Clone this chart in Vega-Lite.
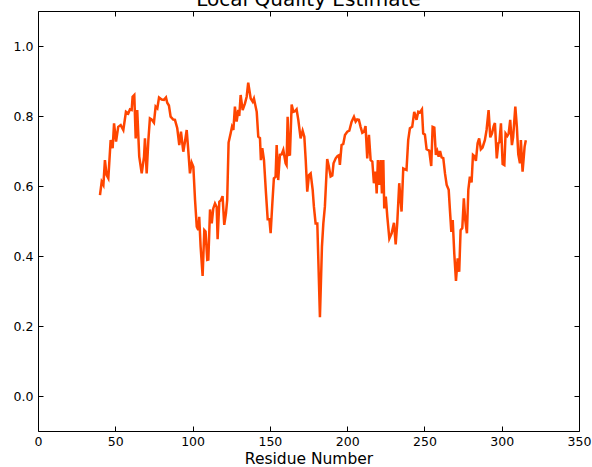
{
  "$schema": "https://vega.github.io/schema/vega-lite/v6.json",
  "width": 541,
  "height": 420,
  "autosize": {"type": "none"},
  "padding": {"left": 38, "top": 11, "right": 13, "bottom": 36},
  "title": {"text": "Local Quality Estimate", "fontSize": 20, "font": "DejaVu Sans", "fontWeight": "normal", "color": "black", "offset": 1, "anchor": "middle"},
  "config": {
    "view": {"stroke": "black", "strokeWidth": 1},
    "axis": {"labelFont": "DejaVu Sans", "labelFontSize": 12.5, "labelColor": "black", "titleFont": "DejaVu Sans", "titleFontWeight": "normal", "titleColor": "black", "tickColor": "black", "tickSize": -5, "tickWidth": 1, "domain": false, "grid": false}
  },
  "data": {"values": [
    {"r":40.1,"q":0.574},{"r":41.2,"q":0.612},{"r":42.3,"q":0.603},{"r":43.3,"q":0.674},{"r":44.4,"q":0.631},{"r":45.5,"q":0.622},{"r":47.0,"q":0.731},{"r":48.3,"q":0.708},{"r":49.2,"q":0.779},{"r":50.5,"q":0.727},{"r":51.9,"q":0.769},{"r":53.5,"q":0.774},{"r":55.2,"q":0.760},{"r":56.9,"q":0.812},{"r":58.4,"q":0.807},{"r":59.5,"q":0.819},{"r":60.6,"q":0.817},{"r":61.2,"q":0.855},{"r":62.3,"q":0.860},{"r":63.2,"q":0.736},{"r":64.2,"q":0.817},{"r":65.5,"q":0.684},{"r":67.1,"q":0.636},{"r":68.6,"q":0.684},{"r":69.2,"q":0.736},{"r":70.3,"q":0.636},{"r":71.4,"q":0.731},{"r":72.4,"q":0.793},{"r":73.5,"q":0.79},{"r":75.0,"q":0.781},{"r":76.1,"q":0.827},{"r":77.2,"q":0.822},{"r":78.3,"q":0.853},{"r":80.0,"q":0.847},{"r":81.5,"q":0.846},{"r":82.8,"q":0.853},{"r":83.6,"q":0.838},{"r":84.7,"q":0.83},{"r":85.8,"q":0.798},{"r":87.5,"q":0.790},{"r":88.6,"q":0.789},{"r":90.1,"q":0.765},{"r":91.4,"q":0.717},{"r":92.5,"q":0.755},{"r":94.0,"q":0.698},{"r":95.1,"q":0.727},{"r":96.2,"q":0.760},{"r":97.2,"q":0.703},{"r":98.3,"q":0.636},{"r":99.4,"q":0.667},{"r":100.5,"q":0.655},{"r":101.6,"q":0.560},{"r":102.7,"q":0.484},{"r":103.7,"q":0.474},{"r":104.3,"q":0.512},{"r":105.2,"q":0.427},{"r":106.5,"q":0.343},{"r":107.6,"q":0.474},{"r":108.4,"q":0.47},{"r":109.5,"q":0.389},{"r":110.2,"q":0.39},{"r":111.3,"q":0.533},{"r":112.4,"q":0.493},{"r":113.4,"q":0.536},{"r":114.5,"q":0.550},{"r":115.6,"q":0.54},{"r":116.2,"q":0.448},{"r":117.3,"q":0.555},{"r":118.4,"q":0.56},{"r":119.4,"q":0.571},{"r":120.5,"q":0.489},{"r":121.6,"q":0.522},{"r":122.4,"q":0.560},{"r":123.3,"q":0.724},{"r":124.6,"q":0.750},{"r":125.5,"q":0.769},{"r":126.4,"q":0.76},{"r":127.4,"q":0.827},{"r":128.5,"q":0.784},{"r":129.6,"q":0.817},{"r":130.2,"q":0.8},{"r":131.1,"q":0.860},{"r":132.4,"q":0.817},{"r":133.9,"q":0.836},{"r":135.0,"q":0.855},{"r":136.0,"q":0.895},{"r":137.6,"q":0.850},{"r":138.9,"q":0.841},{"r":139.7,"q":0.85},{"r":141.5,"q":0.812},{"r":142.5,"q":0.741},{"r":143.6,"q":0.737},{"r":144.2,"q":0.674},{"r":145.1,"q":0.708},{"r":146.2,"q":0.674},{"r":147.5,"q":0.579},{"r":148.6,"q":0.505},{"r":149.7,"q":0.505},{"r":150.5,"q":0.465},{"r":151.6,"q":0.550},{"r":152.6,"q":0.622},{"r":153.7,"q":0.626},{"r":154.4,"q":0.717},{"r":155.4,"q":0.617},{"r":156.5,"q":0.689},{"r":157.6,"q":0.69},{"r":158.7,"q":0.703},{"r":160.2,"q":0.665},{"r":160.8,"q":0.66},{"r":161.5,"q":0.798},{"r":162.3,"q":0.689},{"r":163.0,"q":0.69},{"r":164.1,"q":0.833},{"r":165.2,"q":0.812},{"r":166.3,"q":0.814},{"r":167.3,"q":0.819},{"r":168.4,"q":0.789},{"r":169.9,"q":0.736},{"r":171.2,"q":0.758},{"r":172.3,"q":0.741},{"r":173.2,"q":0.674},{"r":174.2,"q":0.584},{"r":175.3,"q":0.631},{"r":176.4,"q":0.636},{"r":177.7,"q":0.589},{"r":178.5,"q":0.541},{"r":179.6,"q":0.493},{"r":180.7,"q":0.493},{"r":182.4,"q":0.225},{"r":183.7,"q":0.427},{"r":184.6,"q":0.493},{"r":185.6,"q":0.541},{"r":187.1,"q":0.677},{"r":188.2,"q":0.655},{"r":189.3,"q":0.627},{"r":190.4,"q":0.63},{"r":191.2,"q":0.665},{"r":192.6,"q":0.679},{"r":193.8,"q":0.686},{"r":194.7,"q":0.688},{"r":195.3,"q":0.660},{"r":196.4,"q":0.717},{"r":197.5,"q":0.72},{"r":198.6,"q":0.746},{"r":200.1,"q":0.755},{"r":201.4,"q":0.758},{"r":202.9,"q":0.784},{"r":204.4,"q":0.798},{"r":205.5,"q":0.784},{"r":206.5,"q":0.790},{"r":207.6,"q":0.789},{"r":208.7,"q":0.769},{"r":209.8,"q":0.752},{"r":210.9,"q":0.755},{"r":211.9,"q":0.771},{"r":213.0,"q":0.679},{"r":214.1,"q":0.746},{"r":215.2,"q":0.674},{"r":216.3,"q":0.67},{"r":217.3,"q":0.608},{"r":218.4,"q":0.641},{"r":219.1,"q":0.579},{"r":219.9,"q":0.674},{"r":220.8,"q":0.603},{"r":221.7,"q":0.674},{"r":222.5,"q":0.579},{"r":223.4,"q":0.674},{"r":224.0,"q":0.536},{"r":225.0,"q":0.570},{"r":226.0,"q":0.512},{"r":227.3,"q":0.450},{"r":228.8,"q":0.465},{"r":230.3,"q":0.495},{"r":231.4,"q":0.433},{"r":232.4,"q":0.493},{"r":233.7,"q":0.608},{"r":235.2,"q":0.527},{"r":236.3,"q":0.650},{"r":237.8,"q":0.647},{"r":238.4,"q":0.646},{"r":239.5,"q":0.731},{"r":240.6,"q":0.765},{"r":242.1,"q":0.769},{"r":243.4,"q":0.812},{"r":244.9,"q":0.789},{"r":246.0,"q":0.812},{"r":247.1,"q":0.81},{"r":248.4,"q":0.819},{"r":249.2,"q":0.750},{"r":250.3,"q":0.747},{"r":251.4,"q":0.705},{"r":253.1,"q":0.701},{"r":254.4,"q":0.657},{"r":255.3,"q":0.769},{"r":256.4,"q":0.767},{"r":257.4,"q":0.689},{"r":258.3,"q":0.70},{"r":259.2,"q":0.684},{"r":260.1,"q":0.70},{"r":261.1,"q":0.682},{"r":262.2,"q":0.68},{"r":263.3,"q":0.636},{"r":264.4,"q":0.603},{"r":265.7,"q":0.589},{"r":266.5,"q":0.531},{"r":267.4,"q":0.469},{"r":268.3,"q":0.503},{"r":269.3,"q":0.408},{"r":270.4,"q":0.329},{"r":271.5,"q":0.393},{"r":272.5,"q":0.355},{"r":273.4,"q":0.474},{"r":274.5,"q":0.48},{"r":275.5,"q":0.565},{"r":276.4,"q":0.503},{"r":277.5,"q":0.465},{"r":278.4,"q":0.589},{"r":279.4,"q":0.627},{"r":280.5,"q":0.61},{"r":281.4,"q":0.689},{"r":282.2,"q":0.686},{"r":283.3,"q":0.672},{"r":284.4,"q":0.722},{"r":285.4,"q":0.736},{"r":286.5,"q":0.705},{"r":287.6,"q":0.71},{"r":289.1,"q":0.731},{"r":290.2,"q":0.760},{"r":291.5,"q":0.817},{"r":292.6,"q":0.739},{"r":293.7,"q":0.75},{"r":294.8,"q":0.771},{"r":295.6,"q":0.78},{"r":296.8,"q":0.679},{"r":297.8,"q":0.722},{"r":298.5,"q":0.725},{"r":299.5,"q":0.779},{"r":300.6,"q":0.663},{"r":301.7,"q":0.66},{"r":302.5,"q":0.750},{"r":303.6,"q":0.743},{"r":304.5,"q":0.75},{"r":305.5,"q":0.789},{"r":306.6,"q":0.717},{"r":307.4,"q":0.74},{"r":308.8,"q":0.827},{"r":309.8,"q":0.769},{"r":310.7,"q":0.691},{"r":311.8,"q":0.665},{"r":312.4,"q":0.731},{"r":313.5,"q":0.641},{"r":314.8,"q":0.712},{"r":315.6,"q":0.731}
  ]},
  "layer": [
    {
      "mark": {"type": "line", "color": "#FF4500", "strokeWidth": 2.5, "strokeJoin": "miter"},
      "encoding": {
        "x": {"field": "r", "type": "quantitative", "scale": {"domain": [0, 350], "nice": false}, "axis": {"values": [0,50,100,150,200,250,300,350], "title": "Residue Number", "titleFontSize": 15.5, "labelPadding": 9, "titlePadding": 4, "labelFlush": false}},
        "y": {"field": "q", "type": "quantitative", "scale": {"domain": [-0.1, 1.1], "nice": false, "zero": false}, "axis": {"values": [0,0.2,0.4,0.6,0.8,1.0], "format": ".1f", "title": null, "labelPadding": 10, "labelFlush": false}}
      }
    },
    {
      "mark": {"type": "line", "opacity": 0},
      "encoding": {
        "x": {"field": "r", "type": "quantitative", "axis": {"orient": "top", "values": [0,50,100,150,200,250,300,350], "labels": false, "title": null}},
        "y": {"field": "q", "type": "quantitative", "axis": {"orient": "right", "values": [0,0.2,0.4,0.6,0.8,1.0], "labels": false, "title": null}}
      }
    }
  ],
  "resolve": {"axis": {"x": "independent", "y": "independent"}}
}
